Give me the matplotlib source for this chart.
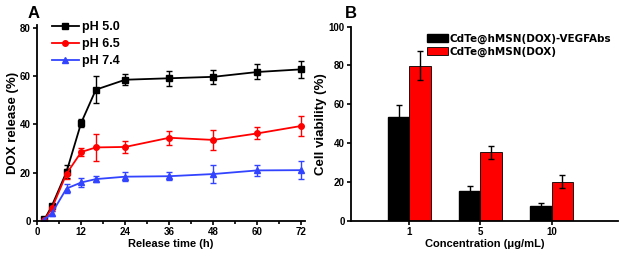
import matplotlib
matplotlib.use("Agg")
import matplotlib.pyplot as plt
import numpy as np
from matplotlib.ticker import MultipleLocator
from matplotlib.lines import Line2D

plt.rcParams['font.family'] = ['Liberation Sans', 'DejaVu Sans']
plt.rcParams['font.weight'] = 'bold'

# Panel A data
time_h = [2, 4, 8, 12, 16, 24, 36, 48, 60, 72]
ph50 = [0.6, 6.2, 20.3, 40.6, 54.3, 58.4, 59.0, 59.6, 61.6, 62.7]
ph50_err = [0.4, 1.0, 2.7, 1.7, 5.5, 2.3, 3.0, 2.9, 3.1, 3.6]
ph65 = [0.5, 5.2, 19.5, 28.5, 30.4, 30.6, 34.4, 33.5, 36.2, 39.3]
ph65_err = [0.4, 1.0, 2.0, 1.7, 5.5, 2.4, 3.0, 4.1, 2.5, 4.0]
ph74 = [0.5, 3.2, 13.4, 15.9, 17.3, 18.3, 18.5, 19.4, 20.9, 21.0]
ph74_err = [0.3, 1.0, 1.7, 1.7, 1.2, 1.9, 1.6, 3.6, 2.4, 3.6]

# Panel B data
conc_labels = ['1', '5', '10']
vegf = [53.7, 15.4, 7.5]
vegf_err = [6.0, 2.6, 1.9]
dox = [79.8, 35.3, 20.2]
dox_err = [7.5, 3.5, 3.4]

fig = plt.figure(figsize=(6.19, 2.56), dpi=100)

# ---- Panel A
ax = fig.add_axes([0.060, 0.137, 0.433, 0.765])
series = [(ph50, ph50_err, 'black', 's', 'pH 5.0'),
          (ph65, ph65_err, 'red', 'o', 'pH 6.5'),
          (ph74, ph74_err, '#3344ff', '^', 'pH 7.4')]
handles = []
for vals, err, col, mk, lab in series:
    ax.errorbar(time_h, vals, yerr=err, color=col, marker=mk, markersize=4,
                linewidth=1.3, capsize=2, elinewidth=1, capthick=1)
    handles.append(Line2D([], [], color=col, marker=mk, markersize=4,
                          linewidth=1.3, label=lab))
ax.set_xlim(0, 73)
ax.set_ylim(0, 81)
ax.xaxis.set_major_locator(MultipleLocator(12))
ax.xaxis.set_minor_locator(MultipleLocator(6))
ax.yaxis.set_major_locator(MultipleLocator(20))
ax.spines['top'].set_visible(False)
ax.spines['right'].set_visible(False)
for s in ['left', 'bottom']:
    ax.spines[s].set_linewidth(1.3)
ax.tick_params(labelsize=7, width=1.2, length=3, pad=1.5)
ax.tick_params(which='minor', width=1.2, length=2)
ax.set_xlabel('Release time (h)', fontsize=8, fontweight='bold', labelpad=1)
ax.set_ylabel('DOX release (%)', fontsize=9.5, fontweight='bold', labelpad=1)
ax.legend(handles=handles, loc='upper left', bbox_to_anchor=(0.035, 1.045),
          frameon=False, fontsize=9, handlelength=2.2, handletextpad=0.2,
          labelspacing=0.4, borderaxespad=0)
fig.text(0.045, 0.93, 'A', fontsize=12, fontweight='bold')

# ---- Panel B
bx = fig.add_axes([0.567, 0.137, 0.431, 0.759])
x = np.arange(len(conc_labels))
w = 0.3
bx.bar(x - w / 2, vegf, w, yerr=vegf_err, color='black', edgecolor='black',
       capsize=2, error_kw=dict(elinewidth=1, capthick=1, ecolor='black'),
       label='CdTe@hMSN(DOX)-VEGFAbs')
bx.bar(x + w / 2, dox, w, yerr=dox_err, color='#ff0000', edgecolor='black',
       linewidth=0.6, capsize=2,
       error_kw=dict(elinewidth=1, capthick=1, ecolor='black'),
       label='CdTe@hMSN(DOX)')
bx.set_xlim(-0.82, 2.93)
bx.set_ylim(0, 100)
bx.set_xticks(x)
bx.set_xticklabels(conc_labels)
bx.yaxis.set_major_locator(MultipleLocator(20))
bx.spines['top'].set_visible(False)
bx.spines['right'].set_visible(False)
for s in ['left', 'bottom']:
    bx.spines[s].set_linewidth(1.3)
bx.tick_params(labelsize=7, width=1.2, length=3, pad=1.5)
bx.set_xlabel('Concentration (\u03bcg/mL)', fontsize=8, fontweight='bold', labelpad=1)
bx.set_ylabel('Cell viability (%)', fontsize=9.5, fontweight='bold', labelpad=1)
bx.legend(loc='upper left', bbox_to_anchor=(0.27, 0.985), frameon=False,
          prop=dict(family='DejaVu Sans', weight='bold', size=7.5),
          handlelength=2.0, handleheight=0.75, handletextpad=0.1,
          labelspacing=0.25, borderaxespad=0)
fig.text(0.557, 0.93, 'B', fontsize=12, fontweight='bold')

fig.savefig('out.png', dpi=100)
